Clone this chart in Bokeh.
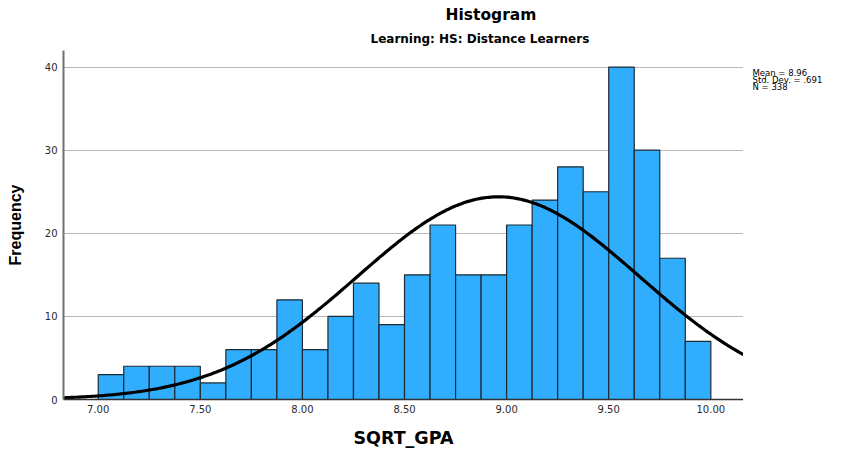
import numpy as np
from bokeh.plotting import figure
from bokeh.models import Range1d, FixedTicker, Title
from bokeh.layouts import row
from bokeh.core.properties import value
from bokeh.embed import file_html
from bokeh.resources import INLINE

# ---- data ----
counts = [3, 4, 4, 4, 2, 6, 6, 12, 6, 10, 14, 9, 15, 21, 15, 15, 21, 24, 28, 25, 40, 30, 17, 7]
bin_start = 7.0
bin_width = 0.125
x_ticks = [7.0, 7.5, 8.0, 8.5, 9.0, 9.5, 10.0]
y_ticks = [0, 10, 20, 30, 40]
mean_val = 8.96
sd_val = 0.691
n_val = 338
title_text = "Histogram"
subtitle_text = "Learning: HS: Distance Learners"
stats_lines = ["Mean = 8.96", "Std. Dev. =  .691", "N = 338"]

WIDE = "DejaVu Sans"
ARIAL = "Liberation Sans"

lefts = bin_start + bin_width * np.arange(len(counts))
rights = lefts + bin_width

x0, x1 = 6.83, 10.16
y_rng = Range1d(0, 42)
p = figure(width=743, height=451, output_backend="svg", toolbar_location=None,
           x_range=Range1d(x0, x1), y_range=y_rng,
           min_border_left=63, min_border_right=0, min_border_top=50, min_border_bottom=52)
p.title = None
p.outline_line_color = None
p.background_fill_color = "white"
p.border_fill_color = "white"

p.quad(left=lefts, right=rights, top=counts, bottom=0,
       fill_color="#31adfe", line_color="#1c2a33", line_width=1.2)

xs = np.linspace(x0, x1, 300)
ys = n_val * bin_width / (sd_val * np.sqrt(2 * np.pi)) * np.exp(-0.5 * ((xs - mean_val) / sd_val) ** 2)
p.line(xs, ys, line_color="black", line_width=3.2)

# grid
p.xgrid.grid_line_color = None
p.ygrid.grid_line_color = "#b8b8b8"
p.ygrid.grid_line_width = 1
p.ygrid.ticker = FixedTicker(ticks=y_ticks)

# axes
p.xaxis.ticker = FixedTicker(ticks=x_ticks)
p.xaxis.major_label_overrides = {t: f"{t:.2f}" for t in x_ticks}
p.yaxis.ticker = FixedTicker(ticks=y_ticks)
for ax in (p.xaxis[0], p.yaxis[0]):
    ax.major_tick_in = 0
    ax.major_tick_out = 0
    ax.minor_tick_in = 0
    ax.minor_tick_out = 0
    ax.major_label_text_font = WIDE
    ax.major_label_text_font_size = "10px"
    ax.major_label_text_color = "#2a2a2a"
    ax.axis_label_text_font_style = "bold"
    ax.axis_label_text_color = "black"

p.xaxis.axis_label = "SQRT_GPA"
p.xaxis.axis_label_text_font = WIDE
p.xaxis.axis_label_text_font_size = "17.5px"
p.xaxis.major_label_standoff = 5
p.xaxis.axis_label_standoff = 12
p.xaxis.axis_line_color = "#333333"
p.xaxis.axis_line_width = 1.5

p.yaxis.axis_label = "Frequency"
p.yaxis.axis_label_text_font = ARIAL
p.yaxis.axis_label_text_font_size = "16px"
p.yaxis.major_label_standoff = 6
p.yaxis.axis_label_standoff = 18
p.yaxis.axis_line_color = "#707070"
p.yaxis.axis_line_width = 2

# titles: subtitle added first (closest to frame), main title stacked above it
p.add_layout(Title(text=subtitle_text, align="left", offset=307, standoff=9,
                   text_font=WIDE, text_font_size="12px", text_font_style="bold",
                   text_color="black"), "above")
p.add_layout(Title(text=title_text, align="left", offset=382, standoff=4,
                   text_font=WIDE, text_font_size="15.5px", text_font_style="bold",
                   text_color="black"), "above")

# side panel with the statistics text (its frame is aligned with the main frame)
stats_y = [39.29, 38.45, 37.61]
side = figure(width=98, height=451, output_backend="svg", toolbar_location=None,
              x_range=Range1d(0, 98), y_range=y_rng,
              x_axis_type=None, y_axis_type=None, min_border=0)
side.title = None
side.outline_line_color = None
side.xgrid.grid_line_color = None
side.ygrid.grid_line_color = None
side.text(x=[9, 9, 9], y=stats_y, text=stats_lines,
          text_font=value(WIDE), text_font_size="8.5px", text_color="black",
          text_align="left", text_baseline="middle")

layout = row(p, side, spacing=0)
open("out.html", "w").write(file_html(layout, INLINE))
